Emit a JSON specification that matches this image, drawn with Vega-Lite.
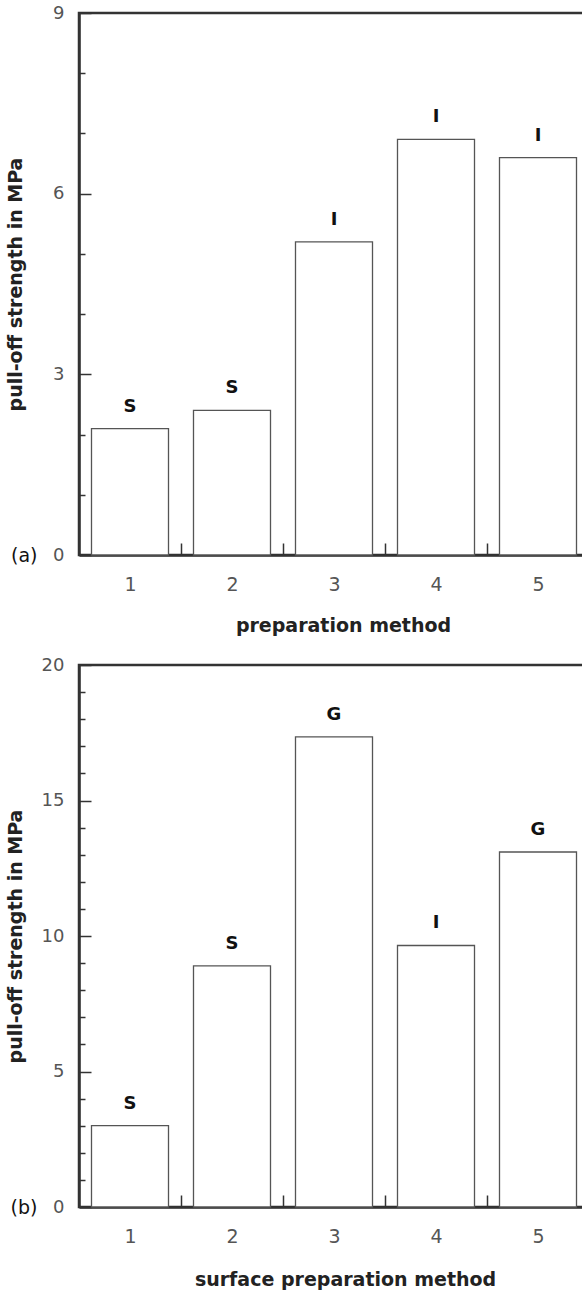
{
  "$schema": "https://vega.github.io/schema/vega-lite/v6.json",
  "background": "white",
  "padding": {"left": 4, "top": 2, "right": 0, "bottom": 0},
  "spacing": 17,
  "config": {
    "font": "DejaVu Sans",
    "view": {"stroke": "#333", "strokeWidth": 2.5},
    "axis": {
      "grid": false,
      "zindex": 1,
      "domainColor": "#333",
      "domainWidth": 2.5,
      "tickColor": "#333",
      "tickWidth": 1.5,
      "labelColor": "#555",
      "labelFont": "DejaVu Sans",
      "titleFont": "DejaVu Sans",
      "titleFontWeight": "bold",
      "titleFontSize": 19,
      "titleColor": "#222"
    }
  },
  "vconcat": [
    {
      "width": 510,
      "height": 542,
      "data": {"values": [
        {"method": 1, "strength": 2.1, "failure": "S"},
        {"method": 2, "strength": 2.4, "failure": "S"},
        {"method": 3, "strength": 5.2, "failure": "I"},
        {"method": 4, "strength": 6.9, "failure": "I"},
        {"method": 5, "strength": 6.6, "failure": "I"}
      ]},
      "encoding": {
        "x": {
          "field": "method", "type": "ordinal",
          "scale": {"paddingInner": 0.245, "paddingOuter": 0.1225},
          "axis": {
            "title": "preparation method", "labelAngle": 0, "bandPosition": 1, "tickSize": -12, "tickOffset": 12.5,
            "labelOffset": -12.5,
            "labelFontSize": 19, "labelPadding": 32,
            "titleX": 264, "titleY": 76, "titleBaseline": "alphabetic"
          }
        }
      },
      "resolve": {"axis": {"y": "independent"}},
      "layer": [
        {"mark": {"type": "bar", "fill": "white", "stroke": "#555", "strokeWidth": 1.3},
         "encoding": {
           "y": {
             "field": "strength", "type": "quantitative",
             "scale": {"domain": [0, 9], "nice": false},
             "axis": {
               "orient": "left",
               "title": "pull-off strength in MPa",
               "values": [0, 1, 2, 3, 4, 5, 6, 7, 8, 9],
               "labelExpr": "datum.value % 3 === 0 ? datum.label : ''",
               "tickSize": {"condition": {"test": "datum.value % 3 === 0", "value": -12}, "value": -6},
               "labelFontSize": 18, "labelPadding": 27,
               "titleX": -64, "titleY": 271, "titleBaseline": "middle", "titleAlign": "center"
             }
           }
         }},
        {"mark": {"type": "text", "baseline": "bottom", "dy": -13, "fontWeight": "bold", "fontSize": 18, "color": "#111"},
         "encoding": {
           "y": {
             "field": "strength", "type": "quantitative",
             "axis": {
               "orient": "left", "title": null, "values": [0], "labelExpr": "'(a)'",
               "ticks": false, "domain": false, "labelPadding": 42,
               "labelFontSize": 19, "labelColor": "#111"
             }
           },
           "text": {"field": "failure"}
         }}
      ]
    },
    {
      "width": 510,
      "height": 542,
      "data": {"values": [
        {"method": 1, "strength": 3.0, "failure": "S"},
        {"method": 2, "strength": 8.9, "failure": "S"},
        {"method": 3, "strength": 17.35, "failure": "G"},
        {"method": 4, "strength": 9.65, "failure": "I"},
        {"method": 5, "strength": 13.1, "failure": "G"}
      ]},
      "encoding": {
        "x": {
          "field": "method", "type": "ordinal",
          "scale": {"paddingInner": 0.245, "paddingOuter": 0.1225},
          "axis": {
            "title": "surface preparation method", "labelAngle": 0, "bandPosition": 1, "tickSize": -12, "tickOffset": 12.5,
            "labelOffset": -12.5,
            "labelFontSize": 19, "labelPadding": 32,
            "titleX": 266, "titleY": 78, "titleBaseline": "alphabetic"
          }
        }
      },
      "resolve": {"axis": {"y": "independent"}},
      "layer": [
        {"mark": {"type": "bar", "fill": "white", "stroke": "#555", "strokeWidth": 1.3},
         "encoding": {
           "y": {
             "field": "strength", "type": "quantitative",
             "scale": {"domain": [0, 20], "nice": false},
             "axis": {
               "orient": "left",
               "title": "pull-off strength in MPa",
               "values": [0, 1, 2, 3, 4, 5, 6, 7, 8, 9, 10, 11, 12, 13, 14, 15, 16, 17, 18, 19, 20],
               "labelExpr": "datum.value % 5 === 0 ? datum.label : ''",
               "tickSize": {"condition": {"test": "datum.value % 5 === 0", "value": -12}, "value": -6},
               "labelFontSize": 18, "labelPadding": 27,
               "titleX": -64, "titleY": 271, "titleBaseline": "middle", "titleAlign": "center"
             }
           }
         }},
        {"mark": {"type": "text", "baseline": "bottom", "dy": -13, "fontWeight": "bold", "fontSize": 18, "color": "#111"},
         "encoding": {
           "y": {
             "field": "strength", "type": "quantitative",
             "axis": {
               "orient": "left", "title": null, "values": [0], "labelExpr": "'(b)'",
               "ticks": false, "domain": false, "labelPadding": 42,
               "labelFontSize": 19, "labelColor": "#111"
             }
           },
           "text": {"field": "failure"}
         }}
      ]
    }
  ]
}
